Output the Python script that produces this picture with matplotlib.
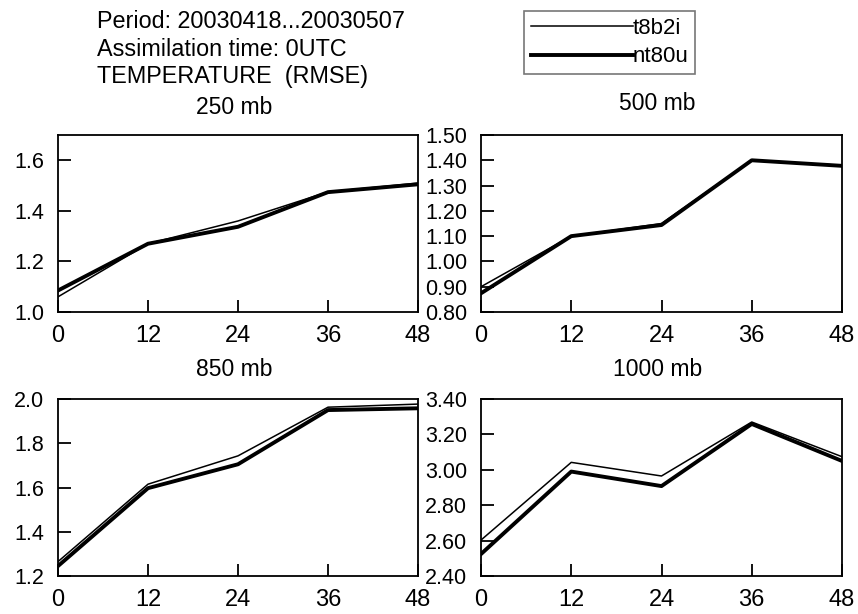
import numpy as np
import matplotlib
matplotlib.use("Agg")
import matplotlib.pyplot as plt

plt.rcParams['font.family'] = ['Liberation Sans', 'DejaVu Sans']

# forecast hours
hours = [0, 12, 24, 36, 48]

# temperature RMSE, thin line = t8b2i, thick line = nt80u
t250_t8b2i = [1.06, 1.27, 1.36, 1.475, 1.51]
t250_nt80u = [1.085, 1.27, 1.337, 1.474, 1.505]
t500_t8b2i = [0.90, 1.10, 1.15, 1.40, 1.38]
t500_nt80u = [0.874, 1.10, 1.144, 1.40, 1.378]
t850_t8b2i = [1.265, 1.615, 1.743, 1.963, 1.977]
t850_nt80u = [1.245, 1.597, 1.705, 1.95, 1.958]
t1000_t8b2i = [2.603, 3.042, 2.965, 3.27, 3.074]
t1000_nt80u = [2.524, 2.99, 2.908, 3.259, 3.05]

fig = plt.figure(figsize=(8.58, 6.14), dpi=100)
W, H = 858.0, 614.0

def make_ax(l, r, t, b):
    return fig.add_axes([l / W, 1 - b / H, (r - l) / W, (b - t) / H])

panels = [
    # (box, title, title y, thin, thick, ylim, yticks, fmt)
    ((58, 418, 135, 312), "250 mb", 107, t250_t8b2i, t250_nt80u, (1.0, 1.7), np.arange(1.0, 1.61, 0.2), "%.1f"),
    ((481, 842, 135, 312), "500 mb", 104, t500_t8b2i, t500_nt80u, (0.8, 1.5), np.arange(0.8, 1.51, 0.1), "%.2f"),
    ((58, 418, 399, 576), "850 mb", 369, t850_t8b2i, t850_nt80u, (1.2, 2.0), np.arange(1.2, 2.01, 0.2), "%.1f"),
    ((481, 842, 399, 576), "1000 mb", 369, t1000_t8b2i, t1000_nt80u, (2.4, 3.4), np.arange(2.4, 3.41, 0.2), "%.2f"),
]

for box, title, ty, thin, thick, ylim, yticks, fmt in panels:
    ax = make_ax(*box)
    ax.plot(hours, thin, color="black", linewidth=1.1, label="t8b2i")
    ax.plot(hours, thick, color="black", linewidth=2.8, label="nt80u")
    ax.set_xlim(0, 48)
    ax.set_ylim(*ylim)
    ax.set_xticks(hours)
    ax.set_yticks(yticks)
    ax.set_yticklabels([fmt % v for v in yticks])
    ax.tick_params(direction="in", length=9, width=1.3)
    ax.tick_params(axis="y", labelsize=15.5, pad=10)
    ax.tick_params(axis="x", labelsize=17, pad=9)
    for sp in ax.spines.values():
        sp.set_linewidth(1.3)
    fig.text(((box[0] + box[1]) / 2 - 4) / W, 1 - ty / H, title, ha="center", va="center", fontsize=16.5)
    if title == "250 mb":
        leg_handles = ax.get_lines()

fig.text(97 / W, 1 - 22 / H, "Period: 20030418...20030507", fontsize=16.8, va="center")
fig.text(97 / W, 1 - 49 / H, "Assimilation time: 0UTC", fontsize=16.8, va="center")
fig.text(97 / W, 1 - 76 / H, "TEMPERATURE  (RMSE)", fontsize=16.8, va="center")

leg = fig.legend(leg_handles, ["t8b2i", "nt80u"], loc="upper left",
                 bbox_to_anchor=(524 / W, 1 - 11 / H), fontsize=16,
                 frameon=True, fancybox=False, edgecolor="#555555",
                 handlelength=4.6, handletextpad=0.0, borderpad=0.3,
                 labelspacing=0.35, borderaxespad=0)
leg.get_frame().set_linewidth(1.2)

fig.savefig("out.png", dpi=100)
